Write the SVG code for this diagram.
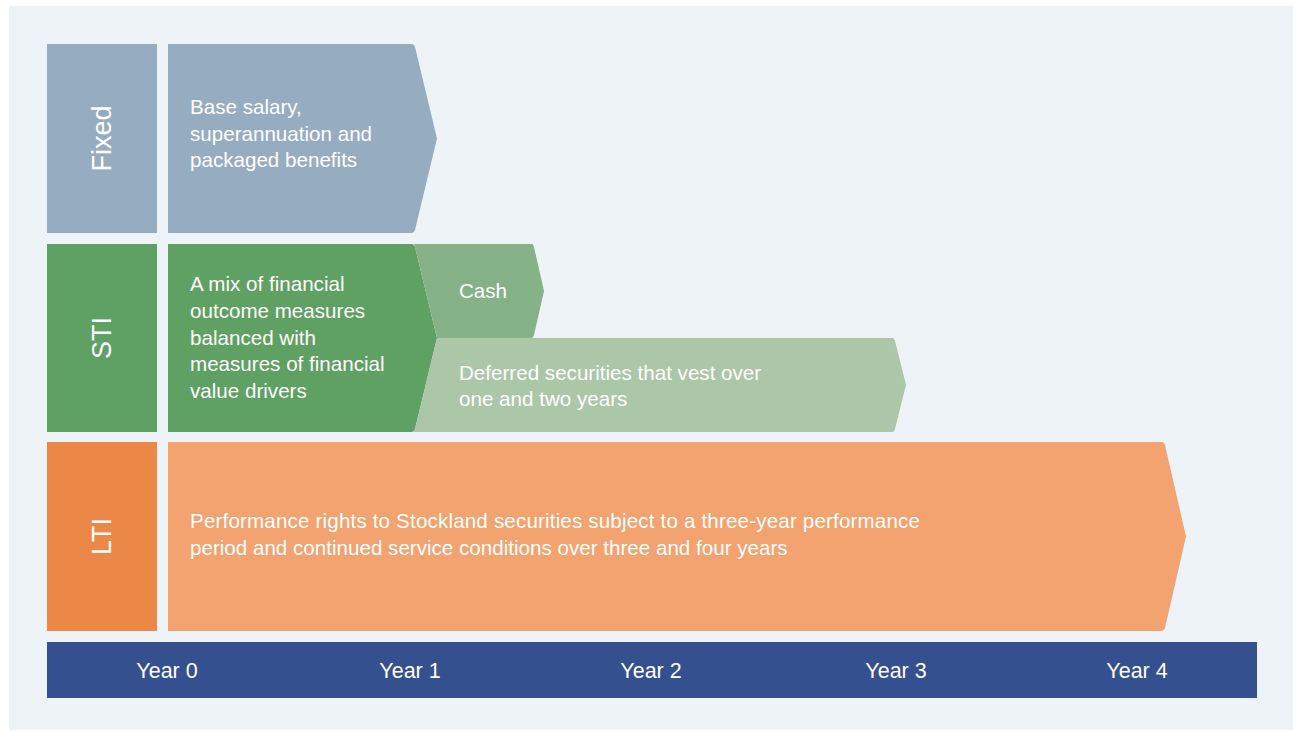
<svg xmlns="http://www.w3.org/2000/svg" width="1293" height="731" viewBox="0 0 1293 731">
<style>
.t{font-family:"Liberation Sans",Arial,sans-serif;font-size:20.6px;fill:#ffffff}
.lab{font-family:"Liberation Sans",Arial,sans-serif;font-size:27px;fill:#ffffff;text-anchor:middle}
.yr{font-family:"Liberation Sans",Arial,sans-serif;font-size:21.5px;fill:#ffffff;text-anchor:middle}
</style>
<rect width="1293" height="731" fill="#ffffff"/>
<rect x="9" y="6" width="1284" height="724" fill="#eef3f7"/>
<g id="fixed">
<rect x="47" y="44" width="110" height="189" fill="#96acc1"/>
<text class="lab" transform="translate(111,138.5) rotate(-90)">Fixed</text>
<path d="M168,44 H412 Q414,44 415,47 L437,138.5 L415,230 Q414,233 412,233 H168 Z" fill="#96acc1"/>
<text class="t" x="190" y="114">Base salary,</text>
<text class="t" x="190" y="141">superannuation and</text>
<text class="t" x="190" y="167">packaged benefits</text>
</g>
<g id="sti">
<rect x="47" y="244" width="110" height="188" fill="#5fa063"/>
<text class="lab" transform="translate(111,338) rotate(-90)">STI</text>
<path d="M168,244 H412 Q414,244 415,247 L437,338 L415,429 Q414,432 412,432 H168 Z" fill="#5fa063"/>
<text class="t" x="190" y="291">A mix of financial</text>
<text class="t" x="190" y="318">outcome measures</text>
<text class="t" x="190" y="345">balanced with</text>
<text class="t" x="190" y="371">measures of financial</text>
<text class="t" x="190" y="398">value drivers</text>
</g>
<g id="cash">
<path d="M414,244 H532 Q533,244 534,247 L544,291 L534,335 Q533,338 532,338 H437 L415,247 Z" fill="#85b286"/>
<text class="t" x="459" y="298">Cash</text>
</g>
<g id="deferred">
<path d="M437,338 H893 Q894,338 895,341 L906,385 L895,429 Q894,432 893,432 H413 L415,429 Z" fill="#abc7a7"/>
<text class="t" x="459" y="380">Deferred securities that vest over</text>
<text class="t" x="459" y="406">one and two years</text>
</g>
<g id="lti">
<rect x="47" y="442" width="110" height="189" fill="#eb8848"/>
<text class="lab" transform="translate(111,536.5) rotate(-90)">LTI</text>
<path d="M168,442 H1162 Q1164,442 1165,445 L1186,536.5 L1165,628 Q1164,631 1162,631 H168 Z" fill="#f2a370"/>
<text class="t" x="190" y="528" textLength="730" lengthAdjust="spacing">Performance rights to Stockland securities subject to a three-year performance</text>
<text class="t" x="190" y="555">period and continued service conditions over three and four years</text>
</g>
<g id="timeline">
<rect x="47" y="642" width="1210" height="56" fill="#34508e"/>
<text class="yr" x="167" y="678">Year 0</text>
<text class="yr" x="410" y="678">Year 1</text>
<text class="yr" x="651" y="678">Year 2</text>
<text class="yr" x="896" y="678">Year 3</text>
<text class="yr" x="1137" y="678">Year 4</text>
</g>
<g id="connectors"></g>
</svg>
